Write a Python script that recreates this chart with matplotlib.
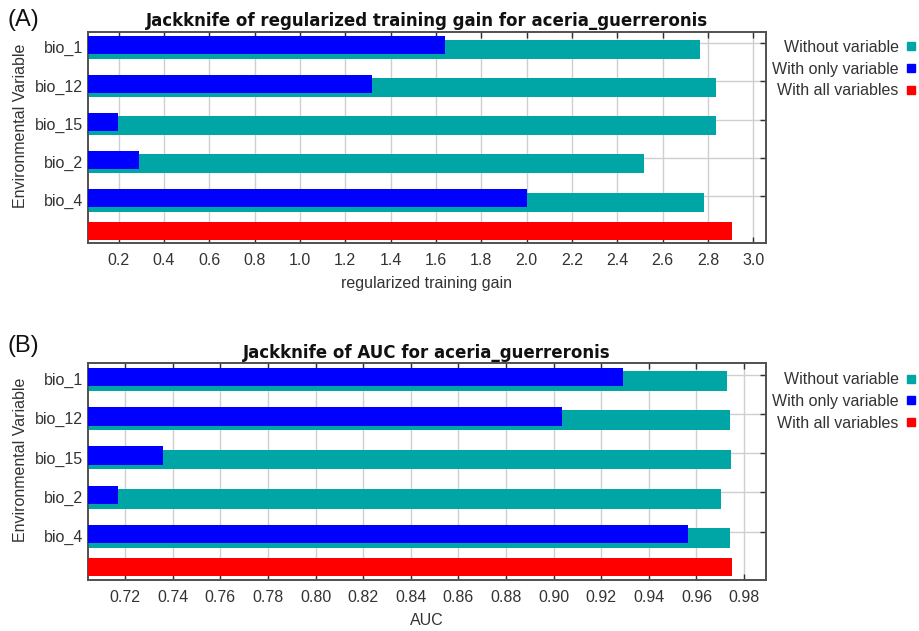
import matplotlib
matplotlib.use("Agg")
import matplotlib.pyplot as plt
from matplotlib.lines import Line2D
from matplotlib.ticker import FormatStrFormatter
import numpy as np

plt.rcParams['font.family'] = ['Liberation Sans', 'DejaVu Sans']

variables = ["bio_1", "bio_12", "bio_15", "bio_2", "bio_4"]

# regularized training gain
gain_without = [2.763, 2.834, 2.834, 2.520, 2.781]
gain_only = [1.641, 1.320, 0.196, 0.290, 2.000]
gain_all = 2.907

# AUC
auc_without = [0.9730, 0.9741, 0.9747, 0.9702, 0.9741]
auc_only = [0.9293, 0.9034, 0.7361, 0.7171, 0.9565]
auc_all = 0.9751

TEAL = '#00a6a6'
BLUE = '#0000ff'
RED = '#ff0000'
GRID = '#cfcfcf'
SPINE = '#505050'


def draw_panel(ax, without, only, all_val, title, xlabel, xlim, xticks, fmt, leg_top):
    y = np.arange(len(variables))
    ax.barh(y + 0.05, without, height=0.50, color=TEAL, zorder=2)
    ax.barh(y - 0.05, only, height=0.47, color=BLUE, zorder=3)
    ax.barh([4.8], [all_val], height=0.46, color=RED, zorder=3)

    ax.set_xlim(*xlim)
    ax.set_ylim(5.12, -0.40)
    ax.set_xticks(xticks)
    ax.xaxis.set_major_formatter(FormatStrFormatter(fmt))
    ax.tick_params(axis='x', direction='in', top=True, bottom=True, length=4,
                   width=1, color='#303030', labelsize=11.5, pad=7,
                   labelcolor='#333333')

    ax.set_yticks(y)
    ax.set_yticklabels(variables)
    ax.tick_params(axis='y', which='major', length=0, labelsize=11.5, pad=3.5,
                   labelcolor='#333333')
    ax.set_yticks(y - 0.11, minor=True)
    ax.tick_params(axis='y', which='minor', left=False, right=True,
                   direction='in', length=4, width=1, color='#303030')

    ax.grid(axis='x', which='major', color=GRID, lw=1, zorder=0)
    ax.grid(axis='y', which='minor', color=GRID, lw=1, zorder=0)
    ax.set_axisbelow(True)
    for s in ax.spines.values():
        s.set_color(SPINE)
        s.set_linewidth(1.4)

    ax.set_title(title, fontsize=12, fontweight='bold', pad=4, color='#111111',
                 family='DejaVu Sans')
    ax.set_xlabel(xlabel, fontsize=11.5, color='#333333', labelpad=6)
    ax.set_ylabel('Environmental Variable', fontsize=11.5, color='#333333')
    ax.yaxis.set_label_coords(-0.0885, 0.555)

    handles = [Line2D([], [], ls='none', marker='s', ms=5.5, color=TEAL),
               Line2D([], [], ls='none', marker='s', ms=5.5, color=BLUE),
               Line2D([], [], ls='none', marker='s', ms=5.5, color=RED)]
    labels = ['Without variable', 'With only variable', 'With all variables']
    leg = ax.legend(handles, labels, loc='upper right', bbox_to_anchor=(1.222, leg_top),
                    frameon=False, markerfirst=False, fontsize=11.5,
                    handlelength=0.6, handletextpad=0.5, labelspacing=0.41,
                    borderpad=0, borderaxespad=0)
    for t in leg.get_texts():
        t.set_color('#333333')


fig = plt.figure(figsize=(9.19, 6.31), dpi=100)
ax1 = fig.add_axes([0.0958, 0.6149, 0.7374, 0.3344])
ax2 = fig.add_axes([0.0958, 0.0808, 0.7374, 0.3434])

draw_panel(ax1, gain_without, gain_only, gain_all,
           'Jackknife of regularized training gain for aceria_guerreronis',
           'regularized training gain', (0.065, 3.055),
           np.round(np.arange(0.2, 3.01, 0.2), 1), '%.1f', 0.962)
draw_panel(ax2, auc_without, auc_only, auc_all,
           'Jackknife of AUC for aceria_guerreronis',
           'AUC', (0.7044, 0.9891),
           np.round(np.arange(0.72, 0.981, 0.02), 2), '%.2f', 0.958)

fig.text(0.025, 0.968, '(A)', fontsize=17, ha='center', va='center', color='#111111')
fig.text(0.025, 0.452, '(B)', fontsize=17, ha='center', va='center', color='#111111')

fig.savefig('out.png', dpi=100)
